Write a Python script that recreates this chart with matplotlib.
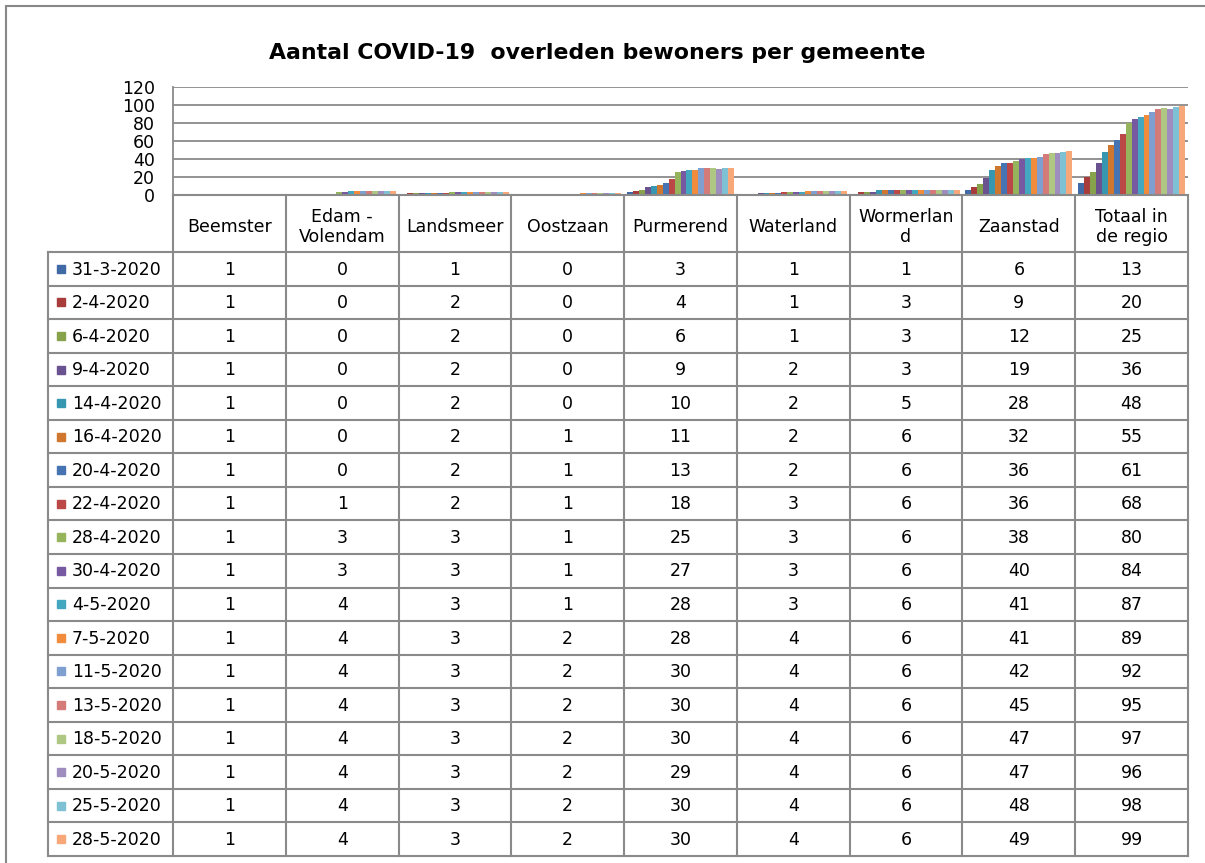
import matplotlib
matplotlib.use("Agg")
import matplotlib.pyplot as plt
from matplotlib.patches import Rectangle

# --- data ---
municipalities = ["Beemster", "Edam -\nVolendam", "Landsmeer", "Oostzaan", "Purmerend",
                  "Waterland", "Wormerlan\nd", "Zaanstad", "Totaal in\nde regio"]
dates = ["31-3-2020", "2-4-2020", "6-4-2020", "9-4-2020", "14-4-2020", "16-4-2020",
         "20-4-2020", "22-4-2020", "28-4-2020", "30-4-2020", "4-5-2020", "7-5-2020",
         "11-5-2020", "13-5-2020", "18-5-2020", "20-5-2020", "25-5-2020", "28-5-2020"]

beemster = [1] * 18
edam_volendam = [0, 0, 0, 0, 0, 0, 0, 1, 3, 3, 4, 4, 4, 4, 4, 4, 4, 4]
landsmeer = [1, 2, 2, 2, 2, 2, 2, 2, 3, 3, 3, 3, 3, 3, 3, 3, 3, 3]
oostzaan = [0, 0, 0, 0, 0, 1, 1, 1, 1, 1, 1, 2, 2, 2, 2, 2, 2, 2]
purmerend = [3, 4, 6, 9, 10, 11, 13, 18, 25, 27, 28, 28, 30, 30, 30, 29, 30, 30]
waterland = [1, 1, 1, 2, 2, 2, 2, 3, 3, 3, 3, 4, 4, 4, 4, 4, 4, 4]
wormerland = [1, 3, 3, 3, 5, 6, 6, 6, 6, 6, 6, 6, 6, 6, 6, 6, 6, 6]
zaanstad = [6, 9, 12, 19, 28, 32, 36, 36, 38, 40, 41, 41, 42, 45, 47, 47, 48, 49]
totaal = [13, 20, 25, 36, 48, 55, 61, 68, 80, 84, 87, 89, 92, 95, 97, 96, 98, 99]

columns = [beemster, edam_volendam, landsmeer, oostzaan, purmerend,
           waterland, wormerland, zaanstad, totaal]
y_ticks = [0, 20, 40, 60, 80, 100, 120]

series_colors = ["#3f6aa6", "#a83c3a", "#86a34b", "#6a5190", "#3797b0", "#d0772f",
                 "#4674b2", "#bb4846", "#95b45b", "#7659a1", "#42a7bf", "#f08c3c",
                 "#7f9fd0", "#d47b79", "#aec883", "#a08dc0", "#7ec1d4", "#f8a878"]

GRID = "#8a8a8a"
FS = 12.5
W, H = 1205, 863

fig = plt.figure(figsize=(W / 100, H / 100), dpi=100, facecolor="white")

# outer chart border (only left and top visible in the crop)
fig.add_artist(Rectangle((6 / W, -0.1), 1.2, 1 - 6 / H + 0.1, transform=fig.transFigure,
                         fill=False, edgecolor="#888888", linewidth=1.5))

fig.text(597 / W, 1 - 53 / H, "Aantal COVID-19  overleden bewoners per gemeente",
         ha="center", va="center", fontsize=15.8, fontweight="bold", color="black")

# --- bar chart ---
px_left, px_right, px_top, px_bot = 173, 1188, 87, 195
ax = fig.add_axes([px_left / W, 1 - px_bot / H, (px_right - px_left) / W, (px_bot - px_top) / H])
n_series = len(dates)
group_w = 0.95
bar_w = group_w / n_series
for s in range(n_series):
    xs = [i + 0.5 - group_w / 2 + (s + 0.5) * bar_w for i in range(len(columns))]
    vals = [col[s] for col in columns]
    ax.bar(xs, vals, width=bar_w, color=series_colors[s], linewidth=0, zorder=3)

ax.set_xlim(0, len(columns))
ax.set_ylim(0, 120)
ax.set_yticks(y_ticks)
ax.set_yticklabels([str(t) for t in y_ticks], fontsize=FS)
ax.tick_params(axis="y", length=0, pad=13)
ax.set_xticks([])
ax.grid(axis="y", color=GRID, linewidth=1.3, zorder=0)
for side in ["top", "right", "bottom"]:
    ax.spines[side].set_visible(False)
ax.spines["left"].set_color(GRID)
ax.spines["left"].set_linewidth(1.3)
ax.patch.set_alpha(0)

# --- data table ---
t_left, t_right, t_top, t_bot = 48, 1188, 195, 856
tab = fig.add_axes([t_left / W, 1 - t_bot / H, (t_right - t_left) / W, (t_bot - t_top) / H])
col_px = (t_right - px_left) / len(columns)
row_px = 33.5
leg_w = (px_left - t_left) / col_px
head_h = (252 - t_top) / row_px
n_rows = len(dates)
tab.set_xlim(-leg_w, len(columns))
tab.set_ylim(n_rows, -head_h)
tab.axis("off")

lw = 1.5
# horizontal lines
tab.plot([0, len(columns)], [-head_h, -head_h], color=GRID, lw=lw, clip_on=False)
for r in range(n_rows + 1):
    tab.plot([-leg_w, len(columns)], [r, r], color=GRID, lw=lw, clip_on=False)
# vertical lines
tab.plot([-leg_w, -leg_w], [0, n_rows], color=GRID, lw=lw, clip_on=False)
for c in range(len(columns) + 1):
    tab.plot([c, c], [-head_h, n_rows], color=GRID, lw=lw, clip_on=False)

# header labels
for c, name in enumerate(municipalities):
    tab.text(c + 0.5, -head_h / 2 + 0.1, name, ha="center", va="center",
             fontsize=FS, linespacing=1.15, color="black")

# legend keys and dates
key_x = -leg_w + 13 / col_px
txt_x = -leg_w + 24 / col_px
for r, d in enumerate(dates):
    tab.plot(key_x, r + 0.5, marker="s", markersize=5.5, color=series_colors[r],
             linestyle="none", clip_on=False)
    tab.text(txt_x, r + 0.52, d, ha="left", va="center", fontsize=FS, color="black")

# values
for c, col in enumerate(columns):
    for r, v in enumerate(col):
        tab.text(c + 0.5, r + 0.52, str(v), ha="center", va="center", fontsize=FS, color="black")

fig.savefig("out.png", dpi=100, facecolor="white")
